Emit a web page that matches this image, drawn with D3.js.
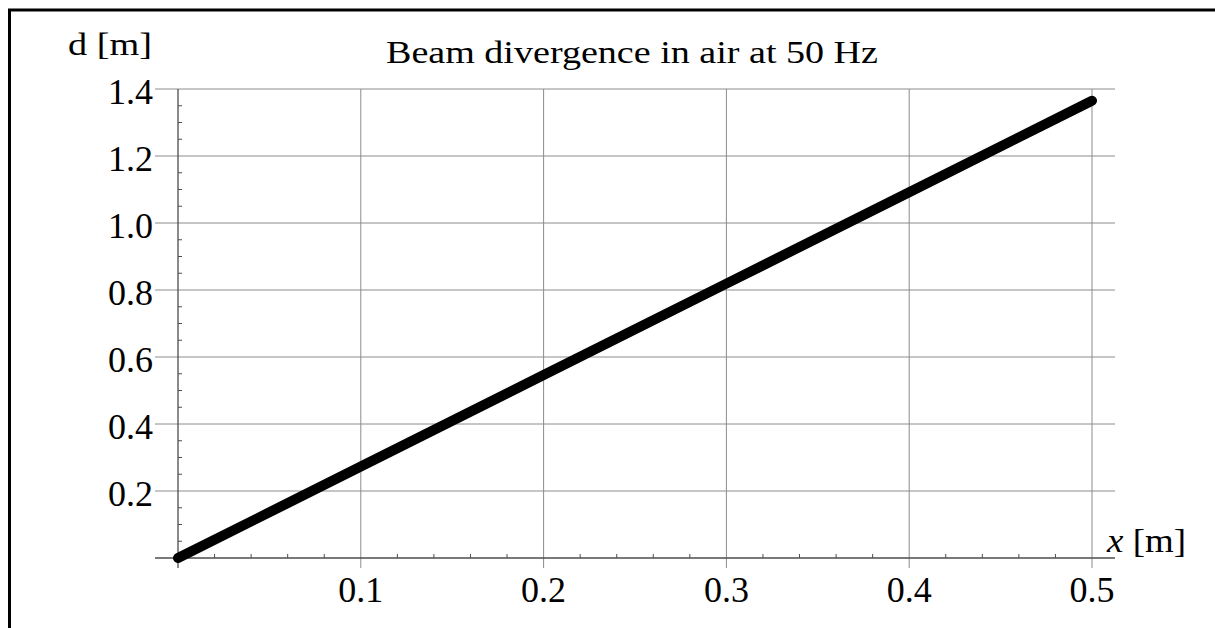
<!DOCTYPE html>
<html>
<head>
<meta charset="utf-8">
<script src="https://cdn.jsdelivr.net/npm/d3@7"></script>
<style>
  html, body { margin: 0; padding: 0; background: #ffffff; }
  text { font-family: 'Liberation Serif', 'DejaVu Serif', serif; fill: #000000; }
</style>
</head>
<body>
<div id="chart"></div>
<script>
// Data.
const distance = [0, 0.1, 0.2, 0.3, 0.4, 0.5];
const divergence = [0, 0.273, 0.546, 0.819, 1.092, 1.365];
const xTicks = [0.1, 0.2, 0.3, 0.4, 0.5];
const yTicks = [0.2, 0.4, 0.6, 0.8, 1.0, 1.2, 1.4];
const titleText = 'Beam divergence in air at 50 Hz';

// Dimensions.
const dimensions = {
  width: 1215,
  height: 628,
  x0: 178,
  x1: 1092,
  y0: 558,
  y1: 89,
};

const svg = d3.select('#chart')
      .append('svg')
      .attr('width', dimensions.width)
      .attr('height', dimensions.height);

// Frame (left and top only).
svg.append('path')
  .attr('d', 'M9.5,628 L9.5,10 L1215,10')
  .attr('fill', 'none')
  .attr('stroke', '#000000')
  .attr('stroke-width', 3);

const x = d3.scaleLinear().domain([0, 0.5]).range([dimensions.x0, dimensions.x1]);
const y = d3.scaleLinear().domain([0, 1.4]).range([dimensions.y0, dimensions.y1]);

// Grid.
const grid = svg.append('g').attr('stroke', '#8c8c8c').attr('stroke-width', 1);
grid.selectAll('line.h')
  .data(yTicks)
  .join('line')
  .attr('class', 'h')
  .attr('x1', 155)
  .attr('x2', 1115)
  .attr('y1', d => y(d))
  .attr('y2', d => y(d));
grid.selectAll('line.v')
  .data(xTicks)
  .join('line')
  .attr('class', 'v')
  .attr('x1', d => x(d))
  .attr('x2', d => x(d))
  .attr('y1', y(1.4))
  .attr('y2', dimensions.y0 + 10);

// Axes lines.
const axes = svg.append('g').attr('stroke', '#4d4d4d').attr('stroke-width', 1.3);
axes.append('line')
  .attr('x1', 155).attr('x2', 1115)
  .attr('y1', dimensions.y0).attr('y2', dimensions.y0);
axes.append('line')
  .attr('x1', dimensions.x0).attr('x2', dimensions.x0)
  .attr('y1', y(1.4)).attr('y2', dimensions.y0 + 10);

// Minor ticks.
const xMinor = d3.range(0.02, 0.5, 0.02).filter(v => Math.abs(v * 10 - Math.round(v * 10)) > 1e-6);
const yMinor = d3.range(0.05, 1.4, 0.05).filter(v => Math.abs(v * 5 - Math.round(v * 5)) > 1e-6);
axes.selectAll('line.xm')
  .data(xMinor)
  .join('line')
  .attr('class', 'xm')
  .attr('stroke-width', 1)
  .attr('x1', d => x(d)).attr('x2', d => x(d))
  .attr('y1', dimensions.y0).attr('y2', dimensions.y0 - 4);
axes.selectAll('line.ym')
  .data(yMinor)
  .join('line')
  .attr('class', 'ym')
  .attr('stroke-width', 1)
  .attr('x1', dimensions.x0).attr('x2', dimensions.x0 + 4)
  .attr('y1', d => y(d)).attr('y2', d => y(d));

// Tick labels.
svg.append('g')
  .selectAll('text')
  .data(yTicks)
  .join('text')
  .attr('x', 153)
  .attr('y', d => y(d) + 15)
  .attr('text-anchor', 'end')
  .style('font-size', '36px')
  .text(d => d3.format('.1f')(d));

svg.append('g')
  .selectAll('text')
  .data(xTicks)
  .join('text')
  .attr('x', d => x(d))
  .attr('y', 602)
  .attr('text-anchor', 'middle')
  .style('font-size', '36px')
  .text(d => d3.format('.1f')(d));

// Axis titles.
svg.append('text')
  .attr('x', 68)
  .attr('y', 55)
  .attr('textLength', 84)
  .attr('lengthAdjust', 'spacingAndGlyphs')
  .style('font-size', '31px')
  .text('d [m]');

const xLabel = svg.append('text')
  .attr('x', 1107)
  .attr('y', 552)
  .attr('textLength', 79)
  .attr('lengthAdjust', 'spacingAndGlyphs')
  .style('font-size', '34px');
xLabel.append('tspan').style('font-style', 'italic').text('x');
xLabel.append('tspan').text(' [m]');

// Title.
svg.append('text')
  .attr('x', 386)
  .attr('y', 63)
  .attr('textLength', 492)
  .attr('lengthAdjust', 'spacingAndGlyphs')
  .style('font-size', '31px')
  .text(titleText);

// Curve.
const line = d3.line()
  .x((d, i) => x(distance[i]))
  .y(d => y(d));

svg.append('path')
  .datum(divergence)
  .attr('d', line)
  .attr('fill', 'none')
  .attr('stroke', '#000000')
  .attr('stroke-width', 10)
  .attr('stroke-linecap', 'round')
  .attr('stroke-linejoin', 'round');
</script>
</body>
</html>
